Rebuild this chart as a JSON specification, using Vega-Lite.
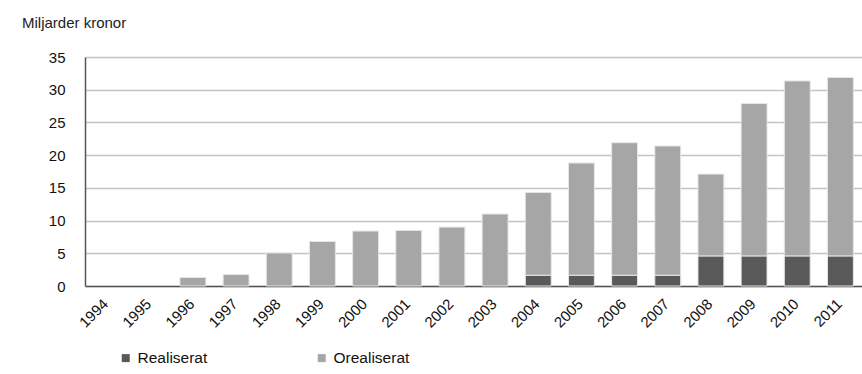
{
  "$schema": "https://vega.github.io/schema/vega-lite/v6.json",
  "autosize": "none",
  "width": 777,
  "height": 229,
  "padding": {"left": 85, "top": 57, "right": 0, "bottom": 88},
  "background": "white",
  "title": {
    "text": "Miljarder kronor",
    "anchor": "start",
    "frame": "group",
    "orient": "top",
    "dx": -63,
    "offset": 19,
    "fontSize": 15,
    "font": "Liberation Sans",
    "fontWeight": "normal",
    "color": "#222222"
  },
  "data": {
    "values": [
      {"ar": "1994", "typ": "Realiserat", "varde": 0},
      {"ar": "1994", "typ": "Orealiserat", "varde": 0},
      {"ar": "1995", "typ": "Realiserat", "varde": 0},
      {"ar": "1995", "typ": "Orealiserat", "varde": 0},
      {"ar": "1996", "typ": "Realiserat", "varde": 0},
      {"ar": "1996", "typ": "Orealiserat", "varde": 1.3},
      {"ar": "1997", "typ": "Realiserat", "varde": 0},
      {"ar": "1997", "typ": "Orealiserat", "varde": 1.75},
      {"ar": "1998", "typ": "Realiserat", "varde": 0},
      {"ar": "1998", "typ": "Orealiserat", "varde": 5.05},
      {"ar": "1999", "typ": "Realiserat", "varde": 0},
      {"ar": "1999", "typ": "Orealiserat", "varde": 6.8},
      {"ar": "2000", "typ": "Realiserat", "varde": 0},
      {"ar": "2000", "typ": "Orealiserat", "varde": 8.4},
      {"ar": "2001", "typ": "Realiserat", "varde": 0},
      {"ar": "2001", "typ": "Orealiserat", "varde": 8.5},
      {"ar": "2002", "typ": "Realiserat", "varde": 0},
      {"ar": "2002", "typ": "Orealiserat", "varde": 9.0},
      {"ar": "2003", "typ": "Realiserat", "varde": 0},
      {"ar": "2003", "typ": "Orealiserat", "varde": 11.0},
      {"ar": "2004", "typ": "Realiserat", "varde": 1.65},
      {"ar": "2004", "typ": "Orealiserat", "varde": 12.65},
      {"ar": "2005", "typ": "Realiserat", "varde": 1.65},
      {"ar": "2005", "typ": "Orealiserat", "varde": 17.15},
      {"ar": "2006", "typ": "Realiserat", "varde": 1.65},
      {"ar": "2006", "typ": "Orealiserat", "varde": 20.25},
      {"ar": "2007", "typ": "Realiserat", "varde": 1.65},
      {"ar": "2007", "typ": "Orealiserat", "varde": 19.75},
      {"ar": "2008", "typ": "Realiserat", "varde": 4.6},
      {"ar": "2008", "typ": "Orealiserat", "varde": 12.5},
      {"ar": "2009", "typ": "Realiserat", "varde": 4.6},
      {"ar": "2009", "typ": "Orealiserat", "varde": 23.3},
      {"ar": "2010", "typ": "Realiserat", "varde": 4.6},
      {"ar": "2010", "typ": "Orealiserat", "varde": 26.75},
      {"ar": "2011", "typ": "Realiserat", "varde": 4.6},
      {"ar": "2011", "typ": "Orealiserat", "varde": 27.27}
    ]
  },
  "transform": [{"filter": "datum.varde > 0"}],
  "mark": {"type": "bar", "stroke": "#e6e6e6", "strokeWidth": 1},
  "encoding": {
    "x": {
      "field": "ar",
      "type": "ordinal",
      "scale": {
        "domain": ["1994","1995","1996","1997","1998","1999","2000","2001","2002","2003","2004","2005","2006","2007","2008","2009","2010","2011"],
        "paddingInner": 0.4,
        "paddingOuter": 0.2
      },
      "axis": {
        "title": null,
        "labelAngle": -45,
        "labelAlign": "right",
        "labelBaseline": "top",
        "labelFontSize": 15,
        "labelFont": "Liberation Sans",
        "labelColor": "#111111",
        "labelPadding": 10,
        "labelOffset": -6,
        "ticks": false,
        "domainColor": "#555555",
        "domainWidth": 1.5
      }
    },
    "y": {
      "field": "varde",
      "type": "quantitative",
      "stack": "zero",
      "scale": {"domain": [0, 35]},
      "axis": {
        "title": null,
        "values": [0, 5, 10, 15, 20, 25, 30, 35],
        "labelFontSize": 15,
        "labelFont": "Liberation Sans",
        "labelColor": "#111111",
        "labelPadding": 20,
        "ticks": false,
        "domainColor": "#555555",
        "domainWidth": 1.5,
        "gridColor": "#c4c4c4",
        "gridWidth": 1.5
      }
    },
    "color": {
      "field": "typ",
      "type": "nominal",
      "scale": {"domain": ["Realiserat", "Orealiserat"], "range": ["#595959", "#a6a6a6"]},
      "legend": {
        "title": null,
        "orient": "none",
        "legendX": 33,
        "legendY": 293,
        "direction": "horizontal",
        "symbolType": "square",
        "symbolSize": 64,
        "symbolStrokeWidth": 0,
        "labelFontSize": 15.5,
        "labelFont": "Liberation Sans",
        "labelColor": "#111111",
        "columnPadding": 106,
        "labelOffset": 4
      }
    },
    "order": {"field": "typ", "sort": "descending"}
  },
  "config": {"view": {"stroke": null}}
}
